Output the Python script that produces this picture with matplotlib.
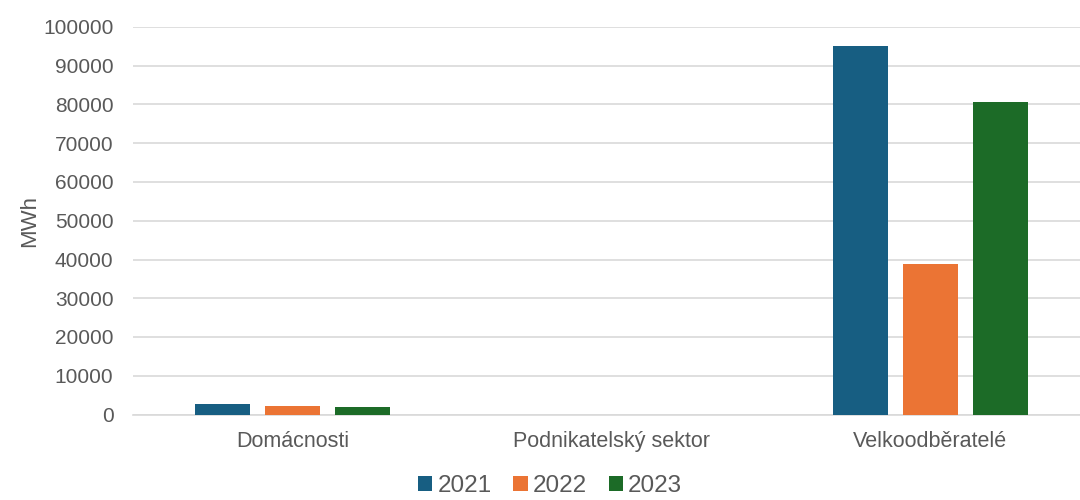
import numpy as np
import matplotlib.pyplot as plt

plt.rcParams['font.family'] = ['Liberation Sans', 'DejaVu Sans']

categories = ['Domácnosti', 'Podnikatelský sektor', 'Velkoodběratelé']
years = ['2021', '2022', '2023']
values_2021 = [2600, 0, 95000]
values_2022 = [2250, 0, 38900]
values_2023 = [1900, 0, 80600]
colors = ['#175e82', '#eb7434', '#1c6b27']

fig = plt.figure(figsize=(10.8, 5), dpi=100)
ax = fig.add_axes([0.123, 0.171, 0.886, 0.775])

x = np.arange(len(categories))
width = 0.172
offset = 0.219
for i, (vals, yr) in enumerate(zip([values_2021, values_2022, values_2023], years)):
    ax.bar(x + (i - 1) * offset, vals, width, color=colors[i], label=yr, zorder=3)

ax.set_xlim(-0.5, 2.5)
ax.set_ylim(0, 100000)
ax.set_yticks(np.arange(0, 100001, 10000))
ax.set_xticks(x)
ax.set_xticklabels(categories, fontsize=15.5)
ax.grid(axis='y', color='#d9d9d9', linewidth=1.2, zorder=0)
for s in ['top', 'right', 'left']:
    ax.spines[s].set_visible(False)
ax.spines['bottom'].set_color('#d9d9d9')
ax.spines['bottom'].set_linewidth(1.2)
ax.tick_params(axis='both', length=0, colors='#595959')
ax.tick_params(axis='y', pad=14, labelsize=15)
ax.tick_params(axis='x', pad=12)
ax.set_ylabel('MWh', color='#595959', fontsize=16, labelpad=2)

ax.legend(loc='upper center', bbox_to_anchor=(0.436, -0.113), ncol=3, frameon=False,
          fontsize=17.5, handlelength=0.6, handleheight=0.6, handletextpad=0.2,
          columnspacing=0.9, labelcolor='#595959', borderpad=0.2)

fig.savefig('out.png', dpi=100)
